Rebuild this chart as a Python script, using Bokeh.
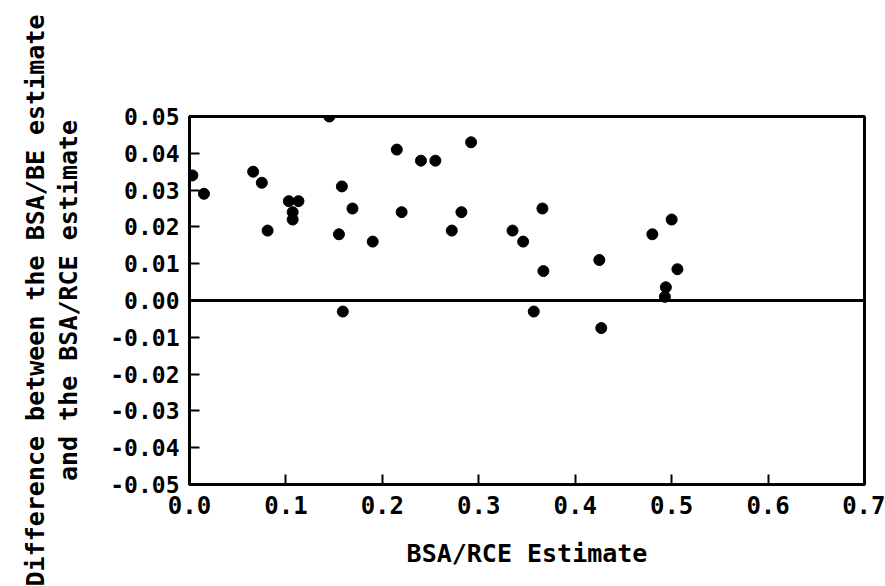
from bokeh.plotting import figure
from bokeh.models import FixedTicker, Span, LinearAxis, ColumnDataSource
from bokeh.embed import file_html
from bokeh.resources import INLINE

# Data
bsa_rce = [0.003, 0.015, 0.066, 0.075, 0.081, 0.103, 0.113, 0.107, 0.107,
           0.145, 0.158, 0.155, 0.159, 0.169, 0.190, 0.215, 0.220, 0.240,
           0.255, 0.272, 0.282, 0.292, 0.335, 0.346, 0.357, 0.366, 0.367,
           0.425, 0.427, 0.480, 0.500, 0.506, 0.494, 0.493]
difference = [0.034, 0.029, 0.035, 0.032, 0.019, 0.027, 0.027, 0.024, 0.022,
              0.050, 0.031, 0.018, -0.003, 0.025, 0.016, 0.041, 0.024, 0.038,
              0.038, 0.019, 0.024, 0.043, 0.019, 0.016, -0.003, 0.025, 0.008,
              0.011, -0.0075, 0.018, 0.022, 0.0085, 0.0036, 0.001]

x_ticks = [0.0, 0.1, 0.2, 0.3, 0.4, 0.5, 0.6, 0.7]
x_tick_labels = ["0.0", "0.1", "0.2", "0.3", "0.4", "0.5", "0.6", "0.7"]
y_ticks = [0.05, 0.04, 0.03, 0.02, 0.01, 0.0, -0.01, -0.02, -0.03, -0.04, -0.05]
y_tick_labels = ["0.05", "0.04", "0.03", "0.02", "0.01", "0.00",
                 "-0.01", "-0.02", "-0.03", "-0.04", "-0.05"]

x_title = "BSA/RCE Estimate"
y_title_1 = "Difference between the BSA/BE estimate"
y_title_2 = "and the BSA/RCE estimate"

FONT = "DejaVu Sans Mono"

p = figure(width=885, height=586, x_range=(0, 0.7), y_range=(-0.05, 0.05),
           output_backend="svg", toolbar_location=None,
           min_border_left=189, min_border_right=21,
           min_border_top=116, min_border_bottom=102)
p.background_fill_color = "white"
p.border_fill_color = "white"
p.outline_line_color = "black"
p.outline_line_width = 3
p.grid.visible = False

for ax in (p.xaxis, p.yaxis):
    ax.axis_line_width = 3
    ax.axis_line_color = "black"
    ax.major_tick_in = 10
    ax.major_tick_out = 0
    ax.major_tick_line_width = 2
    ax.minor_tick_line_color = None
    ax.major_label_text_font = FONT
    ax.major_label_text_font_style = "bold"
    ax.major_label_text_color = "black"
    ax.axis_label_text_font = FONT
    ax.axis_label_text_font_style = "bold"
    ax.axis_label_text_font_size = "25px"
    ax.axis_label_text_color = "black"

p.xaxis.ticker = FixedTicker(ticks=x_ticks)
p.xaxis.major_label_overrides = {t: l for t, l in zip(x_ticks, x_tick_labels)}
p.xaxis.major_label_text_font_size = "24px"
p.xaxis.major_label_standoff = 11
p.xaxis.axis_label = x_title
p.xaxis.axis_label_standoff = 22

p.yaxis.ticker = FixedTicker(ticks=y_ticks)
p.yaxis.major_label_overrides = {t: l for t, l in zip(y_ticks, y_tick_labels)}
p.yaxis.major_label_text_font_size = "23px"
p.yaxis.major_label_standoff = 10
p.yaxis.axis_label = y_title_2
p.yaxis.axis_label_standoff = 24

outer = LinearAxis(axis_label=y_title_1, ticker=FixedTicker(ticks=[]),
                   axis_line_color=None, major_tick_line_color=None,
                   minor_tick_line_color=None, major_label_text_font_size="0px",
                   axis_label_text_font=FONT, axis_label_text_font_style="bold",
                   axis_label_text_font_size="25px", axis_label_text_color="black",
                   axis_label_standoff=2)
p.add_layout(outer, "left")

p.add_layout(Span(location=0, dimension="width", line_color="black", line_width=3))

src = ColumnDataSource(data=dict(x=bsa_rce, y=difference))
p.scatter("x", "y", source=src, size=11, color="black")

open("out.html", "w").write(file_html(p, INLINE))
